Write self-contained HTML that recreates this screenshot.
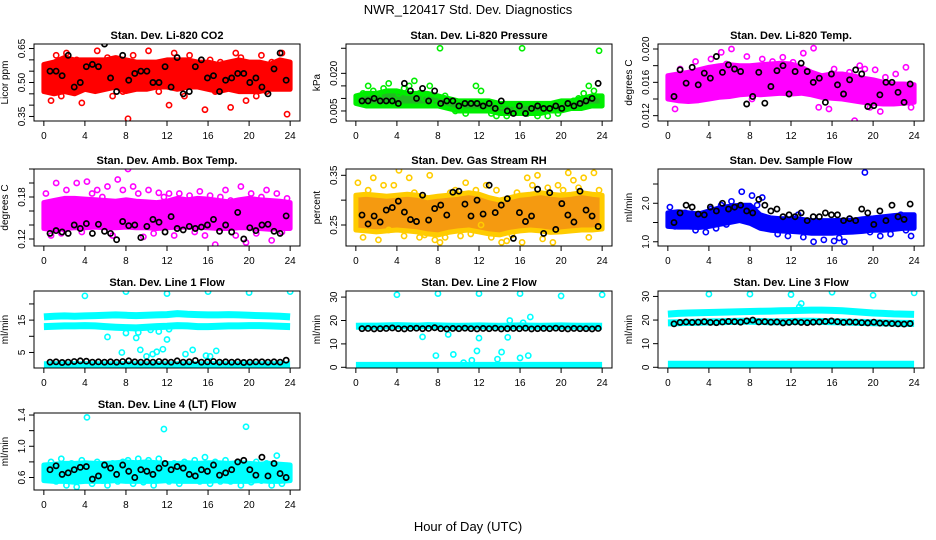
<!DOCTYPE html>
<html><head><meta charset="utf-8"><style>
body{margin:0;background:#fff}
svg{display:block;font-family:"Liberation Sans",sans-serif}
</style></head><body>
<svg id="chart" width="936" height="540" viewBox="0 0 936 540">
<rect width="936" height="540" fill="#fff"/>
<text x="468" y="14" text-anchor="middle" font-size="13">NWR_120417  Std. Dev. Diagnostics</text>
<text x="468" y="531" text-anchor="middle" font-size="13">Hour of Day (UTC)</text>
</svg>
<script>
const xTicks = [0,4,8,12,16,20,24];

const co2Lo = [0.46,0.45,0.46,0.45,0.47,0.46,0.47,0.48,0.46,0.47,0.47,0.48,0.48,0.47,0.48,0.48,0.47,0.46,0.47,0.46,0.46,0.46,0.47,0.47,0.47];
const co2Hi = [0.58,0.59,0.61,0.60,0.60,0.60,0.60,0.61,0.60,0.59,0.59,0.59,0.60,0.60,0.60,0.59,0.59,0.58,0.59,0.60,0.59,0.59,0.58,0.60,0.59];
const co2Pts = [0.56,0.42,0.62,0.44,0.63,0.55,0.60,0.41,0.59,0.48,0.64,0.52,0.61,0.44,0.57,0.46,0.34,0.62,0.50,0.58,0.64,0.53,0.46,0.57,0.40,0.63,0.55,0.44,0.62,0.58,0.50,0.38,0.60,0.46,0.59,0.53,0.39,0.63,0.61,0.42,0.57,0.44,0.62,0.46,0.59,0.51,0.63,0.36];
const co2Blk = [0.55,0.55,0.53,0.62,0.48,0.50,0.57,0.58,0.57,0.67,0.52,0.46,0.62,0.51,0.54,0.55,0.55,0.50,0.50,0.57,0.48,0.61,0.45,0.46,0.57,0.60,0.52,0.53,0.46,0.51,0.52,0.54,0.54,0.50,0.52,0.48,0.45,0.56,0.63,0.51];

const presLo = [0.008,0.007,0.007,0.007,0.007,0.007,0.007,0.007,0.007,0.006,0.005,0.005,0.005,0.005,0.004,0.004,0.004,0.004,0.004,0.005,0.005,0.006,0.006,0.007,0.007];
const presHi = [0.011,0.012,0.012,0.013,0.013,0.012,0.012,0.012,0.011,0.010,0.009,0.009,0.009,0.009,0.008,0.008,0.008,0.008,0.008,0.008,0.009,0.009,0.010,0.011,0.011];
const presPts = [0.010,0.012,0.015,0.013,0.011,0.014,0.016,0.009,0.012,0.014,0.015,0.017,0.012,0.010,0.015,0.008,0.030,0.011,0.009,0.005,0.007,0.004,0.008,0.015,0.013,0.006,0.004,0.003,0.007,0.003,0.006,0.005,0.030,0.004,0.006,0.003,0.005,0.003,0.006,0.004,0.007,0.008,0.009,0.010,0.012,0.015,0.013,0.029];
const presBlk = [0.009,0.009,0.010,0.009,0.009,0.009,0.008,0.016,0.013,0.010,0.014,0.009,0.013,0.008,0.009,0.009,0.007,0.008,0.008,0.008,0.007,0.008,0.006,0.009,0.005,0.004,0.007,0.004,0.006,0.007,0.006,0.006,0.007,0.006,0.008,0.007,0.008,0.009,0.010,0.016];

const tempLo = [0.0140,0.0138,0.0137,0.0138,0.0140,0.0142,0.0143,0.0145,0.0146,0.0145,0.0146,0.0147,0.0146,0.0147,0.0145,0.0142,0.0141,0.0140,0.0138,0.0136,0.0135,0.0134,0.0134,0.0135,0.0136];
const tempHi = [0.0168,0.0170,0.0172,0.0175,0.0178,0.0180,0.0181,0.0180,0.0180,0.0181,0.0182,0.0183,0.0182,0.0178,0.0172,0.0168,0.0170,0.0170,0.0168,0.0165,0.0163,0.0160,0.0158,0.0158,0.0157];
const tempPts = [0.0150,0.0128,0.0176,0.0160,0.0139,0.0185,0.0145,0.0160,0.0188,0.0165,0.0196,0.0182,0.0200,0.0150,0.0176,0.0191,0.0140,0.0178,0.0188,0.0152,0.0185,0.0170,0.0190,0.0160,0.0184,0.0175,0.0195,0.0168,0.0201,0.0130,0.0160,0.0128,0.0176,0.0168,0.0150,0.0172,0.0114,0.0180,0.0176,0.0130,0.0175,0.0125,0.0166,0.0152,0.0170,0.0138,0.0178,0.0130];
const tempBlk = [0.0143,0.0175,0.0159,0.0178,0.0157,0.0171,0.0165,0.0191,0.0172,0.0181,0.0176,0.0173,0.0134,0.0143,0.0172,0.0135,0.0155,0.0174,0.0180,0.0146,0.0173,0.0183,0.0173,0.0160,0.0165,0.0136,0.0170,0.0157,0.0146,0.0163,0.0175,0.0170,0.0131,0.0132,0.0145,0.0160,0.0160,0.0148,0.0136,0.0158];

const ambLo = [0.135,0.133,0.135,0.136,0.136,0.137,0.136,0.136,0.137,0.136,0.136,0.135,0.136,0.137,0.137,0.137,0.136,0.135,0.135,0.136,0.136,0.135,0.134,0.135,0.135];
const ambHi = [0.172,0.175,0.178,0.178,0.177,0.176,0.175,0.174,0.176,0.174,0.173,0.172,0.174,0.178,0.176,0.178,0.177,0.175,0.173,0.176,0.178,0.176,0.175,0.174,0.172];
const ambPts = [0.185,0.125,0.200,0.128,0.190,0.160,0.200,0.130,0.202,0.185,0.190,0.180,0.195,0.125,0.205,0.190,0.220,0.195,0.185,0.123,0.190,0.128,0.186,0.180,0.185,0.125,0.185,0.170,0.182,0.130,0.188,0.125,0.182,0.112,0.180,0.190,0.175,0.125,0.195,0.115,0.185,0.128,0.180,0.190,0.118,0.185,0.130,0.178];
const ambBlk = [0.128,0.132,0.130,0.128,0.140,0.135,0.142,0.128,0.141,0.131,0.128,0.119,0.145,0.139,0.140,0.122,0.138,0.148,0.144,0.130,0.152,0.135,0.133,0.138,0.135,0.137,0.140,0.148,0.131,0.140,0.130,0.158,0.120,0.136,0.132,0.140,0.141,0.131,0.128,0.153];

const rhLo = [0.240,0.238,0.236,0.238,0.240,0.238,0.236,0.232,0.230,0.235,0.238,0.240,0.236,0.232,0.230,0.235,0.238,0.240,0.238,0.235,0.236,0.238,0.240,0.240,0.242];
const rhHi = [0.310,0.312,0.310,0.308,0.310,0.312,0.310,0.305,0.308,0.310,0.312,0.315,0.312,0.305,0.300,0.305,0.310,0.312,0.315,0.312,0.310,0.312,0.315,0.312,0.310];
const rhPts = [0.335,0.225,0.320,0.345,0.220,0.330,0.240,0.330,0.360,0.228,0.345,0.315,0.225,0.230,0.350,0.220,0.215,0.225,0.315,0.320,0.228,0.335,0.232,0.320,0.250,0.330,0.225,0.320,0.215,0.218,0.230,0.315,0.215,0.345,0.330,0.350,0.222,0.325,0.215,0.330,0.320,0.355,0.340,0.325,0.345,0.225,0.355,0.320];
const rhBlk = [0.270,0.252,0.268,0.256,0.280,0.285,0.298,0.276,0.261,0.257,0.310,0.260,0.283,0.290,0.270,0.316,0.318,0.292,0.268,0.300,0.272,0.330,0.275,0.290,0.303,0.223,0.275,0.257,0.268,0.322,0.233,0.315,0.241,0.293,0.270,0.256,0.318,0.280,0.268,0.247];

const sfLo = [1.40,1.38,1.38,1.37,1.40,1.45,1.50,1.55,1.48,1.35,1.30,1.28,1.27,1.25,1.22,1.22,1.22,1.24,1.25,1.27,1.30,1.30,1.32,1.35,1.35];
const sfHi = [1.75,1.78,1.75,1.72,1.80,1.88,1.92,1.95,1.95,1.70,1.62,1.60,1.60,1.58,1.55,1.55,1.55,1.56,1.56,1.60,1.62,1.65,1.68,1.70,1.70];
const sfPts = [1.90,1.40,1.60,1.75,1.55,1.30,1.70,1.25,1.85,1.35,1.95,1.45,2.05,1.85,2.30,1.75,2.20,1.95,2.15,1.40,1.55,1.20,1.45,1.15,1.60,1.70,1.12,1.30,1.00,1.25,1.05,1.35,1.02,1.10,1.00,1.60,1.45,1.30,2.80,1.25,1.50,1.15,1.40,1.20,1.60,1.70,1.30,1.15];
const sfBlk = [1.50,1.75,1.95,1.90,1.72,1.70,1.90,1.80,2.00,1.85,1.90,1.95,1.80,1.75,2.10,1.95,1.80,1.85,1.65,1.70,1.65,1.75,1.55,1.65,1.65,1.75,1.70,1.70,1.55,1.60,1.55,1.85,1.75,1.45,1.80,1.55,1.95,1.65,1.58,1.98];

const l1BandA = [16.0,16.2,16.3,16.2,16.3,16.4,16.5,16.6,16.5,16.4,16.5,16.6,16.7,17.0,16.8,16.7,16.6,16.6,16.7,16.6,16.5,16.4,16.3,16.2,16.0];
const l1BandB = [13.0,13.1,13.2,13.2,13.3,13.2,13.0,12.8,12.7,12.6,12.8,13.0,13.1,13.3,13.2,13.0,13.0,13.1,13.2,13.2,13.3,13.3,13.2,13.1,13.0];
const l1BandC = [1.2,1.2,1.2,1.2,1.2,1.2,1.2,1.2,1.2,1.2,1.2,1.2,1.2,1.2,1.2,1.2,1.2,1.2,1.2,1.2,1.2,1.2,1.2,1.2,1.2];
const l1OutX = [4,8,12,16,20,24,6.2,7.6,8,9,9.4,10,10.6,11,11.6,12,13.8,14.5,15.8,16.2,16.8,9.2,8.9,10.4,11.2,12.2];
const l1OutY = [22.5,23.8,23.2,23.8,23.5,23.8,9.8,5.0,11,9.5,5.8,3.8,4.5,5.2,6.0,9.0,4.5,5.8,4.0,3.8,5.5,11.2,12.5,12.0,11.5,12.2];
const l1Blk = [2.0,2.1,1.9,2.0,2.2,2.4,2.3,2.0,2.1,2.0,2.1,2.0,2.2,2.4,2.1,2.0,2.1,2.0,2.2,2.1,2.0,2.4,2.0,2.1,2.5,2.0,2.1,2.2,2.0,2.1,2.0,2.1,1.9,2.0,2.1,2.1,2.0,2.1,2.0,2.6];

const l2BandA = [17.5,17.6,17.6,17.7,17.8,17.7,17.6,17.8,17.7,17.6,17.5,17.6,17.7,17.6,17.5,17.6,17.7,17.6,17.5,17.6,17.7,17.6,17.5,17.6,17.5];
const l2BandC = [0.8,0.8,0.8,0.8,0.8,0.8,0.8,0.8,0.8,0.8,0.8,0.8,0.8,0.8,0.8,0.8,0.8,0.8,0.8,0.8,0.8,0.8,0.8,0.8,0.8];
const l2OutX = [4,8,12,16,20,24,6.5,7.8,9,9.5,10.5,11.3,11.8,12,13.8,14.2,14.8,15,16,16.3,16.8,17];
const l2OutY = [31,31.5,31.5,31.5,30.5,31,13,5,14,5.5,2,3,7,12.5,3.5,6.5,12.8,20,4,19,5,21.5];
const l2Blk = [16.5,16.6,16.4,16.5,16.6,16.8,16.5,16.4,16.6,16.7,16.5,16.6,16.9,16.5,16.4,16.6,16.5,16.7,16.5,16.4,16.6,16.5,16.7,16.4,16.5,16.6,16.5,16.7,16.4,16.5,16.6,16.5,16.7,16.5,16.4,16.6,16.5,16.5,16.4,16.6];

const l3BandA = [22.5,22.8,23.0,23.1,23.2,23.3,23.4,23.5,23.6,23.7,23.8,23.9,24.0,24.1,24.2,24.2,24.1,23.9,23.6,23.3,23.0,22.8,22.6,22.5,22.4];
const l3BandB = [18.8,18.9,19.0,19.1,19.2,19.3,19.4,19.5,19.5,19.4,19.3,19.3,19.4,19.5,19.5,19.4,19.3,19.2,19.1,19.0,18.9,18.8,18.7,18.6,18.6];
const l3BandC = [1.3,1.3,1.3,1.3,1.3,1.3,1.3,1.3,1.3,1.3,1.3,1.3,1.3,1.3,1.3,1.3,1.3,1.3,1.3,1.3,1.3,1.3,1.3,1.3,1.3];
const l3OutX = [4,8,12,16,20,24,12.8,13];
const l3OutY = [31,31,30.8,31.8,30.5,31.5,25.5,27];
const l3Blk = [18.4,19.0,19.2,19.0,19.1,19.3,19.0,18.9,19.2,19.4,19.3,19.1,19.6,20.0,19.2,19.3,19.1,19.2,18.8,19.0,19.2,19.0,18.9,19.1,19.2,19.4,19.6,19.3,19.0,19.2,19.1,18.9,18.8,19.1,18.7,18.6,18.5,18.4,18.3,18.5];

const l4Lo = [0.56,0.55,0.55,0.54,0.55,0.55,0.55,0.56,0.55,0.55,0.55,0.55,0.56,0.55,0.55,0.55,0.55,0.56,0.55,0.55,0.55,0.56,0.55,0.55,0.56];
const l4Hi = [0.76,0.77,0.78,0.78,0.79,0.78,0.78,0.79,0.80,0.79,0.80,0.79,0.78,0.78,0.79,0.78,0.79,0.79,0.78,0.79,0.78,0.77,0.78,0.77,0.76];
const l4Pts = [0.62,0.80,0.55,0.84,0.50,0.78,0.48,0.82,1.37,0.52,0.80,0.56,0.50,0.78,0.55,0.80,0.82,0.52,0.84,0.54,0.82,0.50,0.84,1.22,0.55,0.78,0.52,0.80,0.58,0.82,0.55,0.86,0.52,0.80,0.55,0.82,0.55,0.78,0.50,1.25,0.54,0.80,0.56,0.78,0.50,0.88,0.52,0.75];
const l4Blk = [0.70,0.75,0.64,0.66,0.70,0.73,0.74,0.58,0.62,0.76,0.72,0.64,0.76,0.68,0.60,0.70,0.68,0.64,0.72,0.78,0.70,0.74,0.72,0.64,0.62,0.70,0.68,0.76,0.63,0.66,0.70,0.80,0.82,0.70,0.63,0.86,0.62,0.78,0.65,0.60];

const svg = document.getElementById('chart');
const NS = 'http://www.w3.org/2000/svg';
function mk(tag, attrs, parent){const e=document.createElementNS(NS,tag);for(const k in attrs)e.setAttribute(k,attrs[k]);(parent||svg).appendChild(e);return e;}

const W=266,H=77;
function panel(o){
  const g=mk('g',{});
  
  
  const L=o.left,T=o.top;
  const xS=v=>L+(v+0.96)/25.92*W;
  const yS=v=>T+H-(v-o.y0)/(o.y1-o.y0)*H;
  const clip='c'+o.name;
  const cp=mk('clipPath',{id:clip},g);mk('rect',{x:L,y:T,width:W,height:H},cp);
  const plot=mk('g',{'clip-path':'url(#'+clip+')'},g);
  // cloud area
  if(o.lo){
    let d='';
    o.lo.forEach((v,i)=>{d+=(i?'L':'M')+xS(i).toFixed(1)+','+yS(v).toFixed(1);});
    for(let i=o.hi.length-1;i>=0;i--)d+='L'+xS(i).toFixed(1)+','+yS(o.hi[i]).toFixed(1);
    const a=mk('path',{d:d+'Z',fill:o.fill||o.color,stroke:o.color,'stroke-width':5,'stroke-linejoin':'round'},plot);
    
    
  }
  (o.bands||[]).forEach(b=>{
    const p=mk('polyline',{points:b.map((v,i)=>xS(i).toFixed(1)+','+yS(v).toFixed(1)).join(' '),fill:'none',stroke:o.color,'stroke-width':7},plot);
    
    
  });
  (o.pts||[]).forEach((v,i)=>{
    const c=mk('circle',{cx:xS(i*0.5+0.2),cy:yS(v),r:2.6,fill:'none',stroke:o.color,'stroke-width':1.6},plot);
    
    
  });
  (o.outX||[]).forEach((x,i)=>{
    const c=mk('circle',{cx:xS(x),cy:yS(o.outY[i]),r:2.6,fill:'none',stroke:o.color,'stroke-width':1.6},plot);
    
    
  });
  o.blk.forEach((v,i)=>{
    const c=mk('circle',{cx:xS(0.6+i*0.59),cy:yS(v),r:2.6,fill:'none',stroke:'#000','stroke-width':1.7},plot);
    
    
  });
  mk('rect',{x:L,y:T,width:W,height:H,fill:'none',stroke:'#000','stroke-width':1},g);
  xTicks.forEach(t=>{
    const x=xS(t);
    mk('line',{x1:x,x2:x,y1:T+H,y2:T+H+5,stroke:'#000'},g);
    const tx=mk('text',{x:x,y:T+H+18,'text-anchor':'middle','font-size':10},g);tx.textContent=t;
    
    
  });
  o.yt.forEach(t=>{
    const y=yS(t);
    mk('line',{x1:L-5,x2:L,y1:y,y2:y,stroke:'#000'},g);
  });
  o.yl.forEach(t=>{
    const y=yS(t);
    const tx=mk('text',{x:L-9,y:y,'text-anchor':'middle','font-size':10,transform:'rotate(-90 '+(L-9)+' '+y+')'},g);tx.textContent=t;
    
    
  });
  const ti=mk('text',{x:L+W/2,y:T-5,'text-anchor':'middle','font-size':11,'font-weight':'bold'},g);ti.textContent=o.title;
  
  
  const yx=L-26,yy=T+H/2;
  const yl=mk('text',{x:yx,y:yy,'text-anchor':'middle','font-size':10,transform:'rotate(-90 '+yx+' '+yy+')'},g);yl.textContent=o.ylab;
  
  
}
const C=[34,346,658],R=[44,169,291,413];
panel({name:'co2',left:C[0],top:R[0],title:'Stan. Dev. Li-820 CO2',ylab:'Licor ppm',y0:0.33,y1:0.67,yt:[0.35,0.40,0.45,0.50,0.55,0.60,0.65],yl:['0.35','0.50','0.65'],color:'#ff0000',lo:co2Lo,hi:co2Hi,pts:co2Pts,blk:co2Blk});
panel({name:'pressure',left:C[1],top:R[0],title:'Stan. Dev. Li-820 Pressure',ylab:'kPa',y0:0.001,y1:0.0317,yt:[0.005,0.010,0.015,0.020,0.030],yl:['0.005','0.020'],color:'#00ee00',fill:'#22bb22',lo:presLo,hi:presHi,pts:presPts,blk:presBlk});
panel({name:'li820-temp',left:C[2],top:R[0],title:'Stan. Dev. Li-820 Temp.',ylab:'degrees C',y0:0.01136,y1:0.0206,yt:[0.012,0.014,0.016,0.018,0.020],yl:['0.012','0.016','0.020'],color:'#ff00ff',lo:tempLo,hi:tempHi,pts:tempPts,blk:tempBlk});
panel({name:'amb-box-temp',left:C[0],top:R[1],title:'Stan. Dev. Amb. Box Temp.',ylab:'degrees C',y0:0.11,y1:0.22,yt:[0.12,0.14,0.16,0.18,0.20,0.22],yl:['0.12','0.18'],color:'#ff00ff',lo:ambLo,hi:ambHi,pts:ambPts,blk:ambBlk});
panel({name:'gas-rh',left:C[1],top:R[1],title:'Stan. Dev. Gas Stream RH',ylab:'percent',y0:0.2077,y1:0.3627,yt:[0.25,0.30,0.35],yl:['0.25','0.35'],color:'#ffcc00',fill:'#f59a10',lo:rhLo,hi:rhHi,pts:rhPts,blk:rhBlk});
panel({name:'sample-flow',left:C[2],top:R[1],title:'Stan. Dev. Sample Flow',ylab:'ml/min',y0:0.89,y1:2.89,yt:[1.0,1.5,2.0,2.5],yl:['1.0','2.0'],color:'#0000ff',lo:sfLo,hi:sfHi,pts:sfPts,blk:sfBlk});
panel({name:'line1-flow',left:C[0],top:R[2],title:'Stan. Dev. Line 1 Flow',ylab:'ml/min',y0:0.2,y1:24,yt:[5,10,15,20],yl:['5','15'],color:'#00ffff',bands:[l1BandA,l1BandB,l1BandC],outX:l1OutX,outY:l1OutY,blk:l1Blk});
panel({name:'line2-flow',left:C[1],top:R[2],title:'Stan. Dev. Line 2 Flow',ylab:'ml/min',y0:-0.3,y1:32.6,yt:[0,10,20,30],yl:['0','10','20','30'],color:'#00ffff',bands:[l2BandA,l2BandC],outX:l2OutX,outY:l2OutY,blk:l2Blk});
panel({name:'line3-flow',left:C[2],top:R[2],title:'Stan. Dev. Line 3 Flow',ylab:'ml/min',y0:-0.3,y1:32.3,yt:[0,10,20,30],yl:['0','10','20','30'],color:'#00ffff',bands:[l3BandA,l3BandB,l3BandC],outX:l3OutX,outY:l3OutY,blk:l3Blk});
panel({name:'line4-flow',left:C[0],top:R[3],title:'Stan. Dev. Line 4 (LT) Flow',ylab:'ml/min',y0:0.44,y1:1.426,yt:[0.6,0.8,1.0,1.2,1.4],yl:['0.6','1.0','1.4'],color:'#00ffff',lo:l4Lo,hi:l4Hi,pts:l4Pts,blk:l4Blk});
</script>
</body></html>
